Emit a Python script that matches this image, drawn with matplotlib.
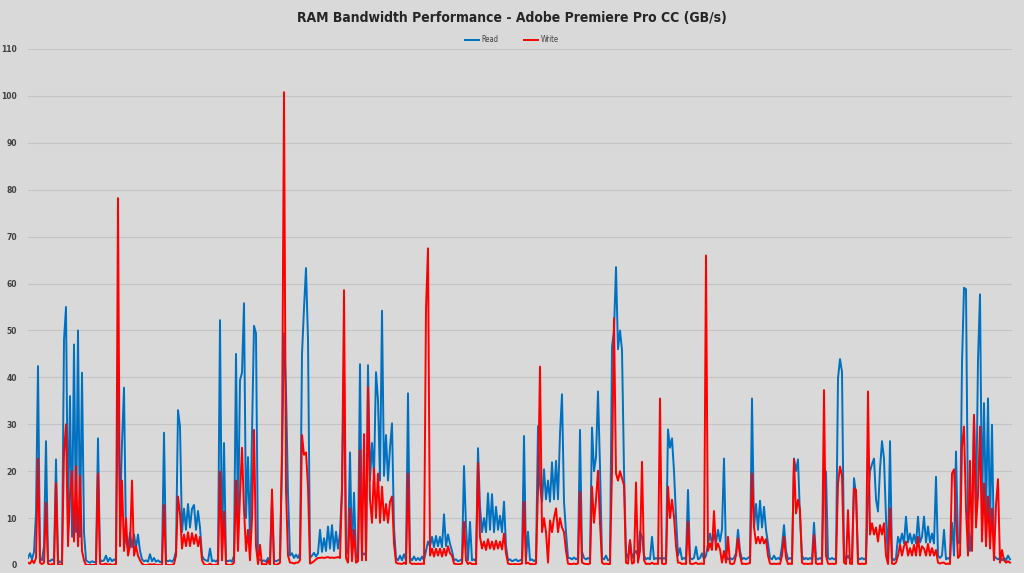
import numpy as np
import matplotlib
matplotlib.use("Agg")
import matplotlib.pyplot as plt

title = "RAM Bandwidth Performance - Adobe Premiere Pro CC (GB/s)"
series_names = ["Read", "Write"]
y_ticks = [0, 10, 20, 30, 40, 50, 60, 70, 80, 90, 100, 110]

read = [
    1.5, 2.5, 1.2, 2.8, 11, 42.4, 1.5, 1.0, 4.0, 26.4,
    1.0, 0.8, 1.2, 0.9, 22.5, 1.0, 0.6, 0.8, 48, 55,
    8, 36, 6, 47, 7, 50, 6, 41, 7, 1,
    0.7, 0.5, 0.8, 0.6, 0.7, 27, 1.2, 0.8, 1, 2,
    0.7, 1.5, 0.8, 1.2, 0.8, 41.7, 10, 26, 37.8, 5,
    3.5, 6.9, 3.8, 6.5, 3.6, 6.5, 3, 1.2, 0.8, 1,
    0.7, 2.3, 0.8, 1.5, 0.7, 1, 0.6, 0.8, 28.2, 1,
    0.8, 1, 0.7, 1.2, 3, 33, 29.5, 7, 12, 7.5,
    13, 8, 12, 12.8, 7.5, 11.5, 8, 2, 1.2, 1,
    0.8, 3.5, 0.8, 1, 0.7, 1.2, 52.2, 2, 26, 1,
    0.8, 1, 0.7, 2, 45, 8, 39.4, 41, 55.8, 10,
    23, 5, 28, 51, 49.4, 1, 1.2, 0.8, 1, 0.7,
    1.5, 0.8, 13.9, 1, 0.8, 1, 1.2, 21.7, 49.4, 37.3,
    15.3, 2, 2.5, 1.5, 2.2, 1.5, 2.5, 45, 54.7, 63.3,
    48, 1.5, 2, 2.6, 1.8, 2.5, 7.5, 2.8, 5.7, 3,
    8.2, 3.5, 8.5, 3, 7.1, 3.5, 6.8, 16.3, 42, 2.8,
    2.5, 24, 2, 15.4, 1.5, 2, 42.8, 2, 2.5, 2,
    42.6, 18, 26, 19, 41.1, 35.2, 18, 54.2, 19, 27.7,
    18, 25, 30.2, 7.8, 1.5, 1, 2, 1, 2.3, 1,
    36.6, 1.5, 1, 1.8, 1, 1.5, 1, 1.8, 1, 3,
    5, 4, 6, 3.8, 6.2, 4, 6, 3.8, 10.8, 4,
    6.5, 4.5, 3, 1, 1.2, 0.8, 1, 1.2, 21.1, 8.2,
    1, 9.2, 1, 1.2, 0.8, 24.9, 12.4, 7, 10, 7,
    15.3, 7.5, 15.1, 7, 12.4, 7.5, 10.5, 7, 13.5, 4,
    1, 1.2, 0.8, 1, 1.2, 0.8, 1, 1.2, 27.5, 1.2,
    7.1, 1, 1.2, 0.8, 1.2, 29.6, 17, 13.5, 20.4, 14,
    18, 13.5, 21.9, 14, 22.2, 14, 27.9, 36.4, 13.5, 7,
    1.5, 1.5, 1.2, 1.6, 1.2, 1.5, 28.8, 2.8, 1.5, 1.2,
    1.5, 1.2, 29.3, 20, 23, 37, 21, 1.5, 1.2, 2,
    1, 1.2, 46.6, 50, 63.5, 46, 50, 45.8, 20.3, 2.5,
    1.5, 5.3, 1.5, 2.5, 3, 2, 7.1, 6, 2, 1.2,
    1.5, 1.2, 6, 1.2, 1.5, 1.2, 1.5, 1.2, 1.5, 1.2,
    28.9, 25, 27, 20, 10.3, 2, 3.6, 1.2, 1.5, 1.2,
    16, 1.5, 1.2, 1.5, 3.9, 1.2, 1.5, 2.5, 1.2, 2,
    4.5, 6.7, 4.6, 6.5, 4.8, 7.5, 5, 7.6, 22.7, 2,
    1.2, 1.5, 1.2, 1.5, 2.5, 7.5, 3, 1.2, 1.5, 1.2,
    1.5, 1.8, 35.5, 8, 13, 7.5, 13.7, 8, 12.4, 7.5,
    4.6, 1.5, 1.2, 2, 1.2, 1.5, 1.2, 4, 8.5, 3,
    1.2, 1.5, 1.2, 22.7, 20, 22.5, 10.3, 2, 1.2, 1.5,
    1.2, 1.5, 1.2, 9, 1.5, 1.2, 1.5, 1.2, 20.4, 19.9,
    1.5, 1.2, 1.5, 1.2, 1.5, 39.8, 43.9, 41.2, 2, 1.2,
    2, 1.2, 1.5, 18.5, 15, 1.5, 1.2, 1.5, 1.2, 1.5,
    13.9, 20, 21.5, 22.7, 14, 11.4, 20.5, 26.4, 22.7, 10,
    1, 26.4, 1.5, 1, 1.5, 6, 4.6, 6.7, 4.6, 10.3,
    4.8, 6.7, 4.6, 6.5, 4.6, 10.3, 4.8, 6, 10.3, 4.8,
    8.2, 4.8, 6.7, 4.6, 18.8, 2, 1.5, 2, 7.5, 1.2,
    1.5, 1.2, 9, 2, 24.2, 4.6, 5, 43, 59.1, 58.8,
    10, 3, 8, 32, 10, 43.7, 57.7, 12, 34.5, 10,
    35.5, 8, 29.9, 2, 1.5, 1.2, 1.5, 1, 1.5, 1,
    2, 1.2,
]

write = [
    0.5, 0.3, 1, 0.4, 1.5, 22.7, 0.5, 0.2, 0.5, 13.3,
    0.3, 0, 0.2, 0.1, 17.5, 0.2, 0, 0.1, 24, 30,
    4, 15, 20, 5, 21, 4, 19, 3, 1, 0,
    0, 0, 0, 0, 0, 19.5, 0.3, 0, 0.2, 0.3,
    0, 0.2, 0, 0.1, 0.2, 78.2, 4, 18, 3, 10,
    2, 4, 18, 2, 4, 2, 1, 0.3, 0, 0,
    0, 0.2, 0, 0.2, 0, 0, 0, 0, 12.8, 0,
    0, 0, 0, 0.2, 2, 14.6, 11, 3.5, 6.5, 4,
    7, 4, 6.8, 4.5, 6.5, 4, 6, 1, 0.2, 0,
    0, 0.3, 0, 0, 0, 0.2, 19.9, 1, 11.4, 0.2,
    0, 0, 0.1, 0.5, 18, 3, 15, 25, 12, 3,
    7.5, 1, 10, 28.8, 4, 0.2, 4.3, 0, 0.2, 0,
    1, 0, 16.1, 0.2, 0, 0.2, 0.5, 25.2, 100.8, 16,
    2, 0.5, 0.5, 0.3, 0.5, 0.5, 1, 27.7, 23.5, 24,
    16.7, 0.3, 0.5, 0.8, 1.2, 1.5, 1.5, 1.6, 1.5, 1.6,
    1.7, 1.5, 1.6, 1.5, 1.6, 1.7, 1.5, 16, 58.6, 1.5,
    0.5, 12.1, 0.8, 7.5, 0.5, 0.8, 24.5, 1, 27.9, 1,
    37.9, 14, 9, 20.6, 10, 19.5, 9, 16.7, 9.5, 13,
    9, 13.5, 14.6, 4.6, 0.5, 0.3, 0.3, 0.2, 0.5, 0.2,
    19.5, 0.5, 0.2, 0.3, 0.2, 0.3, 0.2, 0.3, 0.2, 54.7,
    67.5, 2, 3.5, 1.8, 3.5, 2, 3.5, 1.8, 3.5, 2,
    4, 2.5, 2, 0.3, 0.2, 0.1, 0.2, 0.3, 9.2, 1,
    0.2, 0.5, 0.2, 0.2, 0.1, 21.7, 6, 3.5, 5, 3.2,
    5.5, 3.5, 5, 3.3, 5.2, 3.5, 5, 3.3, 6.7, 2.5,
    0.3, 0.2, 0.1, 0.2, 0.2, 0.1, 0.2, 0.3, 13.5, 0.3,
    0.5, 0.2, 0.2, 0.1, 0.3, 16, 42.3, 7, 10, 7,
    0.5, 9.5, 7, 10, 12.1, 7, 10, 8, 7, 3,
    0.3, 0.2, 0.2, 0.3, 0.2, 0.3, 15.6, 0.5, 0.3, 0.2,
    0.2, 0.3, 16.7, 9, 13.9, 20.1, 9, 0.5, 0.2, 0.3,
    0.2, 0.2, 20, 52.6, 19.5, 18, 20, 18.5, 17, 0.5,
    0.3, 5.3, 0.3, 0.5, 17.6, 0.5, 3, 22, 1, 0.2,
    0.3, 0.2, 0.5, 0.2, 0.3, 0.2, 35.5, 0.3, 0.2, 0.3,
    16.7, 10, 13.9, 10.3, 4, 0.5, 0.5, 0.2, 0.3, 0.2,
    9.2, 0.3, 0.2, 0.3, 0.5, 0.2, 0.3, 0.3, 0.2, 66,
    3, 4.6, 3.2, 11.5, 3.2, 4.6, 3.3, 0.5, 3, 0.5,
    6, 0.3, 0.2, 0.3, 2, 5.7, 2, 0.2, 0.3, 0.2,
    0.3, 0.4, 19.5, 8.2, 4.6, 6, 4.6, 6, 4.6, 5.5,
    2, 0.3, 0.2, 0.3, 0.2, 0.3, 0.2, 2, 6, 1.5,
    0.2, 0.3, 0.2, 22.5, 11, 13.9, 11.7, 0.5, 0.2, 0.3,
    0.2, 0.3, 0.2, 6.4, 0.3, 0.2, 0.3, 0.2, 37.3, 2,
    0.3, 0.2, 0.3, 0.2, 0.3, 17.4, 21, 19, 0.5, 0.2,
    11.7, 0.3, 0.2, 16.3, 16, 0.3, 0.2, 0.3, 0.2, 0.3,
    37, 6.5, 8.9, 6.5, 8, 5, 8.5, 6.5, 8.9, 2,
    0.2, 12.1, 0.3, 0.2, 0.5, 2, 4.3, 2, 4, 5,
    2, 3.6, 2, 4.3, 2, 6, 2, 4, 3.5, 2,
    4.5, 2, 3.6, 2, 3.2, 0.5, 0.3, 0.5, 0.5, 0.2,
    0.3, 0.2, 19.5, 20.4, 10, 1.5, 2, 25.2, 29.5, 12,
    2, 22.2, 3, 32, 8, 15, 29.5, 5, 17.4, 4,
    14.6, 3.5, 12, 1, 12.8, 18.3, 0.5, 3.2, 1, 0.5,
    0.8, 0.5,
]

BG = "#d9d9d9"
BLUE = "#0070c0"
RED = "#ff0000"
FONT = ["DejaVu Sans"]

fig = plt.figure(figsize=(10.24, 5.73), dpi=100, facecolor=BG)
ax = fig.add_axes([28 / 1024, 1 - 565 / 573, (1012 - 28) / 1024, (565 - 49) / 573])
ax.set_facecolor(BG)

x_read = np.arange(len(read))
x_write = np.arange(len(write))
ax.plot(x_read, read, color=BLUE, lw=1.4, label=series_names[0])
ax.plot(x_write, write, color=RED, lw=1.4, label=series_names[1])

ax.set_xlim(0, max(len(read), len(write)))
ax.set_ylim(0, 110)
ax.set_yticks(y_ticks)
ax.set_xticks([])
ax.grid(axis="y", color="#c4c4c4", lw=0.8)
ax.set_axisbelow(True)
for s in ax.spines.values():
    s.set_visible(False)
ax.tick_params(axis="y", length=0, pad=8, labelsize=5.5, labelcolor="#404040")
for lbl in ax.get_yticklabels():
    lbl.set_fontweight("bold")

fig.text(0.5, 1 - 18 / 573, title, ha="center", va="center", fontsize=10,
         fontweight="bold", fontstretch="condensed", color="#262626", family=FONT)

leg = fig.legend(loc="center", bbox_to_anchor=(0.5, 1 - 40 / 573), ncol=2, frameon=False,
                 handlelength=1.8, columnspacing=3.4, handletextpad=0.3,
                 prop={"family": FONT, "size": 5.5, "stretch": "condensed"})
for t in leg.get_texts():
    t.set_color("#404040")

fig.savefig("out.png", dpi=100, facecolor=BG)
